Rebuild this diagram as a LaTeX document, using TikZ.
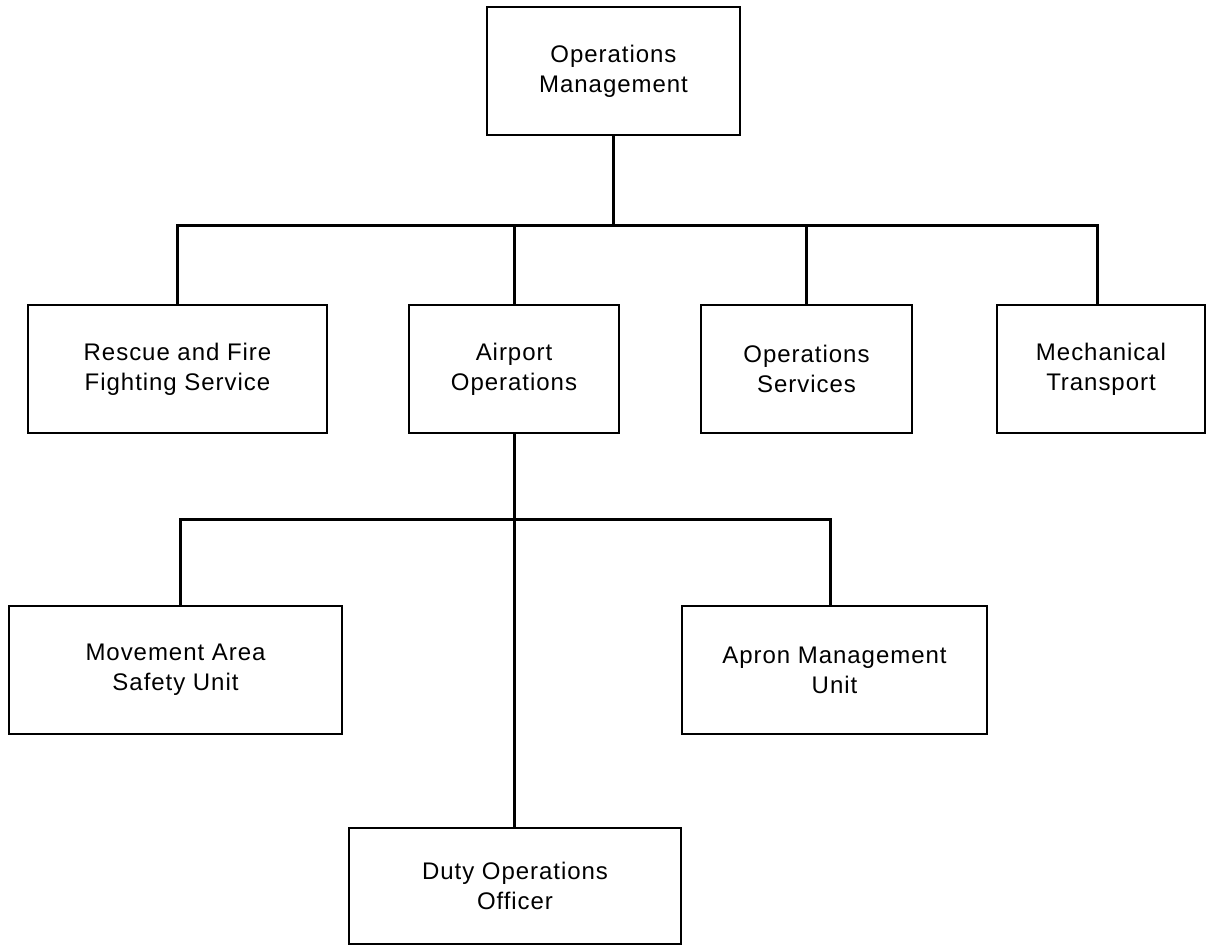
\documentclass[tikz,border=0pt]{standalone}
\usepackage{fontspec}
\setmainfont{Liberation Sans}[LetterSpace=4]
\usetikzlibrary{positioning,calc}

\begin{document}
\begin{tikzpicture}[
  x=0.5pt,y=-0.5pt,
  unit/.style={draw,line width=1.2pt,align=center,minimum height=64pt,
               inner sep=0pt,font=\fontsize{12}{15}\selectfont},
  link/.style={line width=1.5pt}
]
\useasboundingbox (0,0) rectangle (1210,946);

\node[unit,minimum width=126.5pt] (mgmt) at (613.5,71) {Operations\\Management};

\node[unit,minimum width=149.5pt] (rescue) at (177.5,369) {Rescue and Fire\\Fighting Service};
\node[unit,minimum width=105pt,right=39.8pt of rescue] (airport) {Airport\\Operations};
\node[unit,minimum width=105.5pt,right=39.8pt of airport] (opsserv) {Operations\\Services};
\node[unit,minimum width=104pt,right=41.3pt of opsserv] (mech) {Mechanical\\Transport};

\node[unit,minimum width=166.5pt] (movement) at (175.5,670) {Movement Area\\Safety Unit};
\node[unit,minimum width=152.5pt] (apron) at (834.5,670) {Apron Management\\Unit};
\node[unit,minimum width=166pt,minimum height=58pt] (duty) at (515,886) {Duty Operations\\Officer};

\coordinate (bus1) at (613.5,226);
\coordinate (bus2) at (514,519);

\draw[link] (mgmt) -- (mgmt |- bus1);
\draw[link] (rescue.north) |- ($(mech.north |- bus1)+(-4,0)$) -- ($(mech.north)+(-4,0)$);
\draw[link] (airport.north) -- (airport.north |- bus1);
\draw[link] (opsserv.north) -- (opsserv.north |- bus1);

\draw[link] (airport.south) -- (airport.south |- duty.north);
\draw[link] ($(movement.north)+(4.5,0)$) |- ($(apron.north |- bus2)+(-4.5,0)$) -- ($(apron.north)+(-4.5,0)$);
\end{tikzpicture}
\end{document}
